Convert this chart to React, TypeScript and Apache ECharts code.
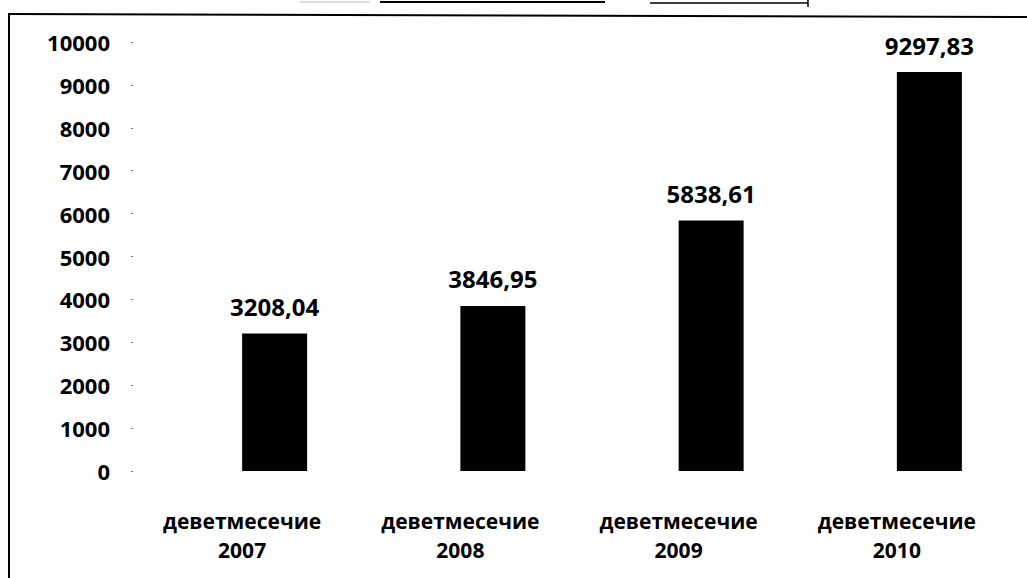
import React, { useEffect, useRef } from "react";
import * as echarts from "echarts";

const categories = ["деветмесечие\n2007", "деветмесечие\n2008", "деветмесечие\n2009", "деветмесечие\n2010"];
const values = [3208.04, 3846.95, 5838.61, 9297.83];
const emptySeries = [null, null, null, null];
const yMin = 0;
const yMax = 10000;
const yInterval = 1000;

const FONT = "'Open Sans', sans-serif";

export default function App() {
  const ref = useRef<HTMLDivElement>(null);
  useEffect(() => {
    if (!ref.current) return;
    const chart = echarts.init(ref.current, undefined, { renderer: "svg" });
    chart.setOption({
      animation: false,
      backgroundColor: "#ffffff",
      grid: { left: 133, top: 42, width: 873, height: 429, containLabel: false },
      xAxis: {
        type: "category",
        data: categories,
        axisLine: { show: false },
        axisTick: { show: false },
        axisLabel: {
          color: "#000",
          fontFamily: FONT,
          fontWeight: "bold",
          fontSize: 21,
          lineHeight: 29,
          margin: 35,
        },
      },
      yAxis: {
        type: "value",
        min: yMin,
        max: yMax,
        interval: yInterval,
        axisLine: { show: false },
        axisTick: { show: true, length: 2, lineStyle: { color: "#777", width: 1 } },
        splitLine: { show: false },
        axisLabel: {
          color: "#000",
          fontFamily: FONT,
          fontWeight: "bold",
          fontSize: 22,
          margin: 23,
          formatter: (v: number) => String(v),
        },
      },
      series: [
        {
          type: "bar",
          data: emptySeries,
          barWidth: 65,
          barGap: "0%",
          itemStyle: { color: "#000" },
        },
        {
          type: "bar",
          data: values,
          barWidth: 65,
          barGap: "0%",
          itemStyle: { color: "#000" },
          label: {
            show: true,
            position: "top",
            distance: 15,
            color: "#000",
            fontFamily: FONT,
            fontWeight: "bold",
            fontSize: 24,
            formatter: (p: any) => p.value.toFixed(2).replace(".", ","),
          },
        },
      ],
      graphic: [
        { type: "line", shape: { x1: 9, y1: 13, x2: 9, y2: 578 }, style: { stroke: "#000", lineWidth: 2 } },
        { type: "line", shape: { x1: 9, y1: 14, x2: 1027, y2: 17 }, style: { stroke: "#000", lineWidth: 2 } },
        { type: "line", shape: { x1: 300, y1: 2, x2: 370, y2: 2 }, style: { stroke: "#bbb", lineWidth: 1 } },
        { type: "line", shape: { x1: 380, y1: 2, x2: 605, y2: 2 }, style: { stroke: "#000", lineWidth: 2 } },
        { type: "line", shape: { x1: 650, y1: 3, x2: 808, y2: 3 }, style: { stroke: "#000", lineWidth: 1.5 } },
        { type: "line", shape: { x1: 808, y1: 0, x2: 808, y2: 7 }, style: { stroke: "#000", lineWidth: 1.5 } },
      ],
    });
    return () => chart.dispose();
  }, []);
  return (
    <div
      ref={ref}
      style={{ position: "fixed", left: 0, top: 0, width: 1027, height: 578, background: "#fff" }}
    />
  );
}
